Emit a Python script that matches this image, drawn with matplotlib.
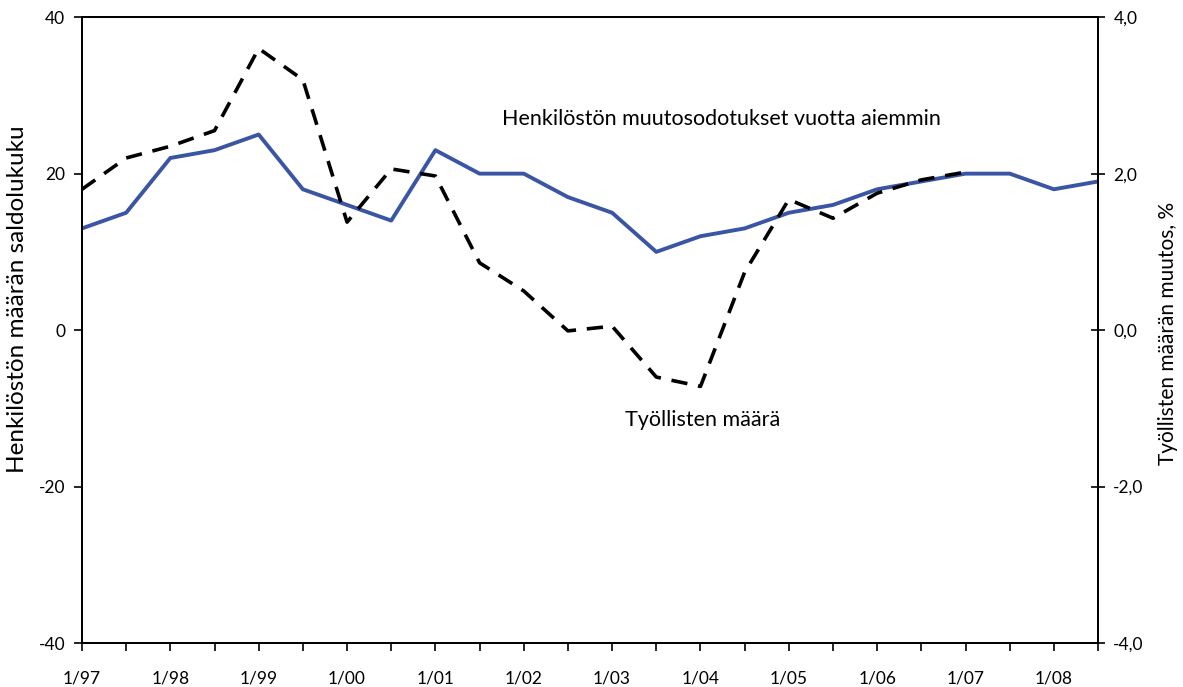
import matplotlib as mpl; mpl.use("Agg")
import matplotlib.pyplot as plt

plt.rcParams.update({"font.family": ["Lato", "DejaVu Sans"], "axes.unicode_minus": False})

# half-year periods 1/97 ... 7/08
tick_labels = ["1/97", "", "1/98", "", "1/99", "", "1/00", "", "1/01", "", "1/02", "",
               "1/03", "", "1/04", "", "1/05", "", "1/06", "", "1/07", "", "1/08", ""]
periods = list(range(len(tick_labels)))
expect = [13, 15, 22, 23, 25, 18, 16, 14, 23, 20, 20, 17,
          15, 10, 12, 13, 15, 16, 18, 19, 20, 20, 18, 19]
employ = [1.8, 2.2, 2.35, 2.55, 3.6, 3.2, 1.38, 2.06, 1.97, 0.86, 0.5, -0.01,
          0.05, -0.6, -0.72, 0.74, 1.67, 1.43, 1.75, 1.92, 2.02]

fig = plt.figure(figsize=(11.83, 6.87), dpi=100)
ax = fig.add_axes([0.0693, 0.064, 0.8589, 0.911])
ax2 = ax.twinx()

ax.plot(periods, expect, color="#3a55a4", lw=2.8, zorder=3)
ax2.plot(periods[:len(employ)], employ, color="black", lw=2.6, dashes=(4.5, 3), zorder=4)

ax.set_xlim(0, 23)
ax.set_ylim(-40, 40); ax.set_yticks([-40, -20, 0, 20, 40])
ax2.set_ylim(-4, 4); ax2.set_yticks([-4, -2, 0, 2, 4])
ax2.set_yticklabels(["-4,0", "-2,0", "0,0", "2,0", "4,0"])
ax.set_xticks(periods)
ax.set_xticklabels(tick_labels, fontsize=12.5)
ax.tick_params(axis="x", direction="out", length=6, width=1.2, pad=14)
ax.tick_params(axis="y", direction="out", length=6, width=1.2, labelsize=12.5, pad=6)
ax2.tick_params(axis="y", direction="inout", length=10, width=1.2, labelsize=12.5, pad=6)
for a in (ax, ax2):
    for s in a.spines.values():
        s.set_linewidth(1.4)

ax.set_ylabel("Henkilöstön määrän saldolukuku", fontsize=17.5)
ax.yaxis.set_label_coords(-54 / 1016, (643 - 299) / 626)
ax2.set_ylabel("Työllisten määrän muutos, %", fontsize=15)
ax2.yaxis.set_label_coords(1 + 60 / 1016, (643 - 333) / 626)

ax.text(9.5, 27, "Henkilöstön muutosodotukset vuotta aiemmin", fontsize=15.5, va="center")
ax.text(12.3, -11.5, "Työllisten määrä", fontsize=15.5, va="center")

fig.savefig("out.png", dpi=100, facecolor="white")
